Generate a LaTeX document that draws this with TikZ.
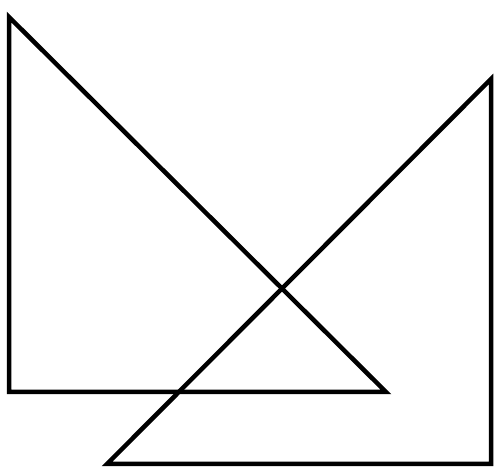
\documentclass[tikz,border=0pt]{standalone}

\begin{document}
\begin{tikzpicture}[x=1pt, y=-1pt]
        \useasboundingbox (0,0) rectangle (499,473);

        \draw[black, line width=4.5pt, line join=miter] (9,17) -- (9,392) -- (386,392) -- cycle;
        \draw[black, line width=4.5pt, line join=miter] (107,464) -- (491,464) -- (491,79) -- cycle;
    \end{tikzpicture}
\end{document}
